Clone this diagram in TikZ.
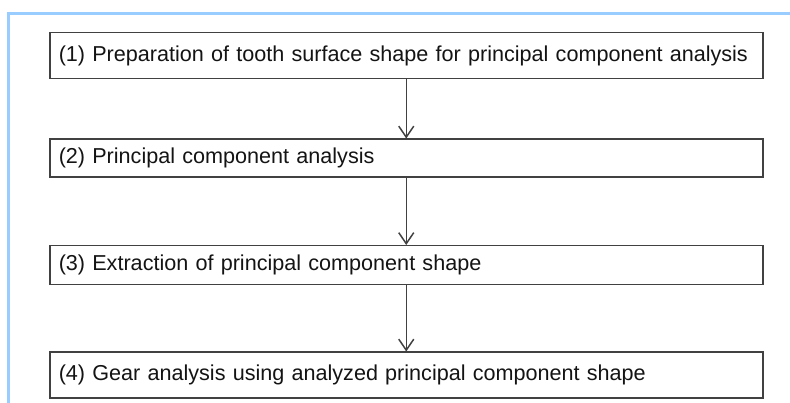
\documentclass[tikz,border=0pt]{standalone}
\usepackage{fontspec}
\setmainfont{Liberation Sans}
\usetikzlibrary{arrows.meta}
\definecolor{cframe}{RGB}{153,204,255}
\definecolor{cline}{RGB}{65,65,65}
\definecolor{ctext}{RGB}{20,20,20}

\begin{document}
\begin{tikzpicture}[x=1pt, y=1pt, >={Straight Barb[length=11pt, width=15pt]},
		stepbox/.style={draw=cline, line width=1.5pt, fill=white, text=ctext, anchor=north, minimum width=\bwid, text width=\bwid-18pt, inner xsep=9pt, inner ysep=0pt, align=left, font=\fontsize{21.6}{26}\selectfont},
		steparrow/.style={->, draw=cline, line width=1.5pt}]
		\def\xleft{0}
		\def\xright{790}
		\def\ydown{0}
		\def\yup{403}
		\def\bwid{713pt}
		\draw[draw=none, use as bounding box] (\xleft, \ydown) rectangle (\xright, \yup);
		
		% Frame
		\draw[cframe, line width=2.7pt] (\xright, 389.3) -- (8.7, 389.3) -- (8.7, \ydown);
		
		% Boxes
		\node[stepbox, anchor=north west, minimum height=46pt] (prep) at (49, 371)
			{(1) Preparation of tooth surface shape for principal component analysis};
		\node[stepbox, minimum height=38pt] (pca) at ([yshift=-59pt]prep.south)
			{(2) Principal component analysis};
		\node[stepbox, minimum height=39pt] (extract) at ([yshift=-67pt]pca.south)
			{(3) Extraction of principal component shape};
		\node[stepbox, minimum height=46pt] (gear) at ([yshift=-66pt]extract.south)
			{(4) Gear analysis using analyzed principal component shape};
		
		% Arrows
		\draw[steparrow] (prep.south) -- (pca.north);
		\draw[steparrow] (pca.south) -- (extract.north);
		\draw[steparrow] (extract.south) -- (gear.north);
		
	\end{tikzpicture}
\end{document}
